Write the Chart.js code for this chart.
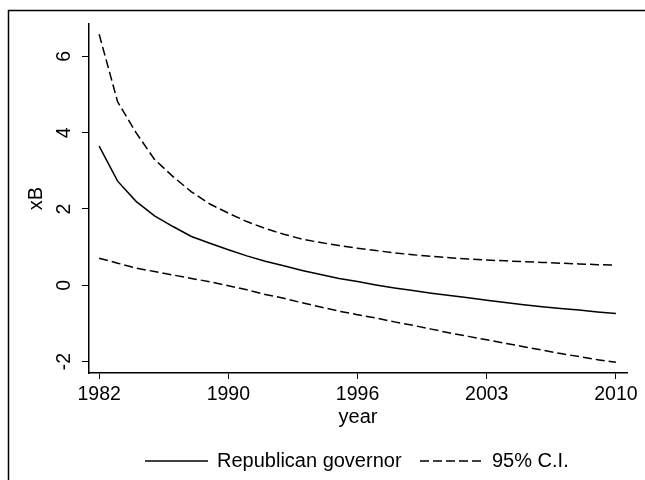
<!DOCTYPE html>
<html>
<head>
<meta charset="utf-8">
<script src="https://cdn.jsdelivr.net/npm/chart.js@4"></script>
<style>
  body { margin: 0; background: #fff; }
  canvas { display: block; }
</style>
</head>
<body>
<canvas id="myChart" width="645" height="480"></canvas>
<script>
//DATA
// x is the position along the axis (0..28), year labels only at 5 ticks
var tickPositions = [0, 7, 14, 21, 28];
var tickLabels = ["1982", "1990", "1996", "2003", "2010"];
var yTicks = [-2, 0, 2, 4, 6];

var fitValues = [3.65, 2.73, 2.20, 1.82, 1.54, 1.28, 1.10, 0.93, 0.77, 0.63,
  0.51, 0.39, 0.28, 0.18, 0.10, 0.01, -0.07, -0.14, -0.21, -0.27,
  -0.33, -0.39, -0.45, -0.51, -0.56, -0.61, -0.65, -0.70, -0.74];
var upperValues = [6.58, 4.81, 4.00, 3.30, 2.85, 2.45, 2.13, 1.89, 1.67, 1.49,
  1.34, 1.21, 1.12, 1.04, 0.97, 0.91, 0.85, 0.80, 0.76, 0.72,
  0.69, 0.66, 0.64, 0.62, 0.60, 0.58, 0.56, 0.54, 0.53];
var lowerValues = [0.71, 0.58, 0.45, 0.36, 0.27, 0.18, 0.09, -0.01, -0.12, -0.24,
  -0.34, -0.46, -0.57, -0.68, -0.77, -0.86, -0.96, -1.05, -1.15, -1.25,
  -1.34, -1.43, -1.52, -1.61, -1.70, -1.79, -1.87, -1.95, -2.02];

var legendNames = ["Republican governor", "95% C.I."];

function toPoints(arr){
  return arr.map(function(v, i){ return {x: i, y: v}; });
}

var FONT = "'Liberation Sans', Arial, Helvetica, sans-serif";
var dash = [9, 4];

//frame + legend, drawn on top
var stataExtras = {
  id: 'stataExtras',
  afterDraw: function(chart){
    var ctx = chart.ctx;
    ctx.save();
    //outer frame
    ctx.strokeStyle = '#000';
    ctx.lineWidth = 1.5;
    ctx.strokeRect(8.5, 10.5, 800, 800);

    //legend
    var ly = 461;
    var items = [
      {ds: chart.data.datasets[0], x0: 145, text: legendNames[0]},
      {ds: chart.data.datasets[1], x0: 420, text: legendNames[1]}
    ];
    ctx.font = "20px " + FONT;
    ctx.fillStyle = '#000';
    ctx.textBaseline = 'middle';
    ctx.textAlign = 'left';
    items.forEach(function(it){
      ctx.beginPath();
      ctx.setLineDash(it.ds.borderDash || []);
      ctx.lineWidth = it.ds.borderWidth;
      ctx.strokeStyle = it.ds.borderColor;
      ctx.moveTo(it.x0, ly);
      ctx.lineTo(it.x0 + 63, ly);
      ctx.stroke();
      ctx.setLineDash([]);
      ctx.fillText(it.text, it.x0 + 72, ly + 0.5);
    });
    ctx.restore();
  }
};

var ctx = document.getElementById('myChart').getContext('2d');
var myChart = new Chart(ctx, {
  type: 'line',
  data: {
    datasets: [{
      label: legendNames[0],
      data: toPoints(fitValues),
      borderColor: '#000',
      borderWidth: 1.5,
      pointRadius: 0,
      tension: 0,
      fill: false
    }, {
      label: legendNames[1],
      data: toPoints(upperValues),
      borderColor: '#000',
      borderWidth: 1.5,
      borderDash: dash,
      pointRadius: 0,
      tension: 0,
      fill: false
    }, {
      label: legendNames[1],
      data: toPoints(lowerValues),
      borderColor: '#000',
      borderWidth: 1.5,
      borderDash: dash,
      pointRadius: 0,
      tension: 0,
      fill: false
    }]
  },
  options: {
    responsive: false,
    animation: false,
    layout: { padding: { top: 24, right: 18, bottom: 51, left: 0 } },
    plugins: {
      legend: { display: false },
      tooltip: { enabled: false }
    },
    scales: {
      x: {
        type: 'linear',
        min: -0.55,
        max: 28.6,
        afterBuildTicks: function(scale){
          scale.ticks = tickPositions.map(function(v){ return {value: v}; });
        },
        afterFit: function(scale){ scale.height = 56; },
        ticks: {
          autoSkip: false,
          maxRotation: 0,
          padding: 4.3,
          color: '#000',
          font: { family: FONT, size: 19.5 },
          callback: function(v){ return tickLabels[tickPositions.indexOf(v)]; }
        },
        grid: {
          display: true,
          drawOnChartArea: false,
          drawTicks: true,
          tickLength: 6,
          color: '#000',
          lineWidth: 1
        },
        border: { display: true, color: '#000', width: 1.5 },
        title: {
          display: true,
          text: 'year',
          color: '#000',
          font: { family: FONT, size: 20 },
          padding: { top: 0, bottom: 0 }
        }
      },
      y: {
        min: -2.3,
        max: 6.85,
        afterBuildTicks: function(scale){
          scale.ticks = yTicks.map(function(v){ return {value: v}; });
        },
        afterFit: function(scale){ scale.width = 89; },
        ticks: {
          minRotation: 90,
          maxRotation: 90,
          crossAlign: 'center',
          padding: 8.3,
          color: '#000',
          font: { family: FONT, size: 19.5 }
        },
        grid: {
          display: true,
          drawOnChartArea: false,
          drawTicks: true,
          tickLength: 7,
          color: '#000',
          lineWidth: 1
        },
        border: { display: true, color: '#000', width: 1.5 },
        title: {
          display: true,
          text: 'xB',
          color: '#000',
          font: { family: FONT, size: 20 },
          padding: { top: 24.7, bottom: 0 }
        }
      }
    }
  },
  plugins: [stataExtras]
});
</script>
</body>
</html>
